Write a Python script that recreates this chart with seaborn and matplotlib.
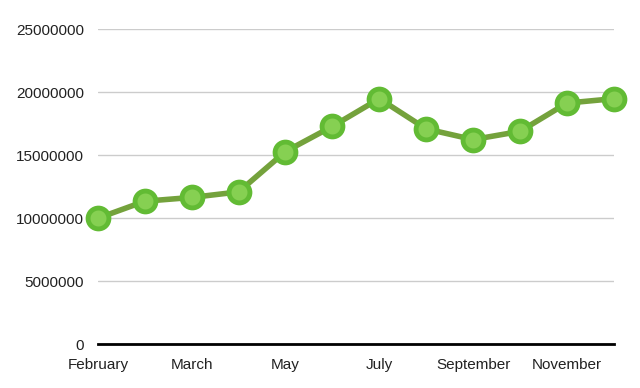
import pandas as pd
import numpy as np
import matplotlib.pyplot as plt
import seaborn as sns

months = ["February", "February", "March", "April", "May", "June",
          "July", "August", "September", "October", "November", "December"]
values = [10000000, 11350000, 11650000, 12090000, 15300000, 17300000,
          19500000, 17100000, 16250000, 16900000, 19150000, 19500000]
yticks = [0, 5000000, 10000000, 15000000, 20000000, 25000000]

df = pd.DataFrame({"idx": np.arange(len(months)), "month": months, "value": values})

sns.set_theme(style="white")
plt.rcParams['font.family'] = ['Liberation Sans', 'DejaVu Sans']

fig = plt.figure(figsize=(6.4, 3.88), dpi=100)
ax = fig.add_axes([0.153, 0.1134, 0.806, 0.8106])

sns.lineplot(data=df, x="idx", y="value", ax=ax, color="#74a23c", linewidth=4,
             marker="o", markersize=15, markerfacecolor="#86d052",
             markeredgecolor="#62bb34", markeredgewidth=3.5, clip_on=False, zorder=3)

ax.set_xlim(0, len(months) - 1)
ax.set_ylim(0, 25000000)
ax.set_yticks(yticks)
ax.set_yticklabels([str(v) for v in yticks])
ax.set_xticks(df["idx"][::2])
ax.set_xticklabels(df["month"][::2])
ax.grid(axis="y", color="#cccccc", linewidth=1)
ax.set_axisbelow(True)
for s in ["top", "right", "left"]:
    ax.spines[s].set_visible(False)
ax.spines["bottom"].set_color("black")
ax.spines["bottom"].set_linewidth(2)
ax.tick_params(axis="both", length=0, labelsize=11, colors="#222222")
ax.tick_params(axis="y", pad=10)
ax.tick_params(axis="x", pad=10)
ax.set_xlabel("")
ax.set_ylabel("")

fig.savefig("out.png", dpi=100)
